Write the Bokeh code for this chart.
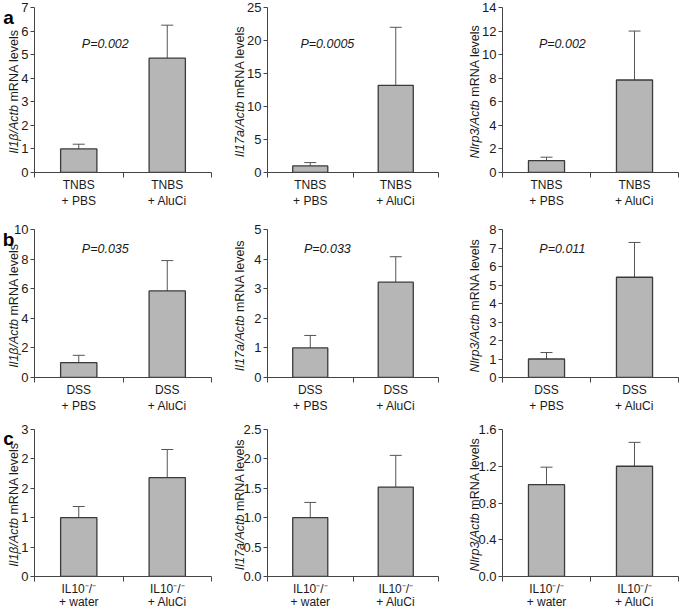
import math
from bokeh.plotting import figure
from bokeh.models import (Range1d, FixedTicker, Whisker, TeeHead, ColumnDataSource,
                          GridBox)
from bokeh.layouts import row, column
from bokeh.core.properties import value
from bokeh.embed import file_html
from bokeh.resources import INLINE

# ---------------- data ----------------
letters = ["a", "b", "c"]
genes = ["Il1β/Actb", "Il17a/Actb", "Nlrp3/Actb"]
groups_a = ["TNBS\n+ PBS", "TNBS\n+ AluCi"]
groups_b = ["DSS\n+ PBS", "DSS\n+ AluCi"]
groups_c = ["IL10\u207b/\u207b\n+ water", "IL10\u207b/\u207b\n+ AluCi"]

# row a (TNBS)
values_a = [[1.0, 4.85], [1.0, 13.2], [1.0, 7.85]]
errors_a = [[0.2, 1.4], [0.5, 8.8], [0.3, 4.15]]
pvals_a = ["P=0.002", "P=0.0005", "P=0.002"]
# row b (DSS)
values_b = [[1.0, 5.85], [1.0, 3.22], [1.0, 5.42]]
errors_b = [[0.5, 2.05], [0.42, 0.86], [0.35, 1.88]]
pvals_b = ["P=0.035", "P=0.033", "P=0.011"]
# row c (IL10-/-)
values_c = [[1.0, 1.68], [1.0, 1.52], [1.0, 1.2]]
errors_c = [[0.19, 0.48], [0.26, 0.54], [0.19, 0.26]]
pvals_c = [None, None, None]

# y axis ticks and their labels
yticks_a = [[0, 1, 2, 3, 4, 5, 6, 7], [0, 5, 10, 15, 20, 25], [0, 2, 4, 6, 8, 10, 12, 14]]
ylabels_a = [[str(t) for t in ts] for ts in yticks_a]
yticks_b = [[0, 2, 4, 6, 8, 10], [0, 1, 2, 3, 4, 5], [0, 1, 2, 3, 4, 5, 6, 7, 8]]
ylabels_b = [[str(t) for t in ts] for ts in yticks_b]
yticks_c = [[0, 0.5, 1.0, 1.5, 2.0, 2.5], [0, 0.5, 1.0, 1.5, 2.0, 2.5], [0, 0.4, 0.8, 1.2, 1.6]]
ylabels_c = [["0", "1", "1", "2", "2", "3"],
             ["0.0", "0.5", "1.0", "1.5", "2.0", "2.5"],
             ["0.0", "0.4", "0.8", "1.2", "1.6"]]

rows_data = [
    (groups_a, values_a, errors_a, pvals_a, yticks_a, ylabels_a),
    (groups_b, values_b, errors_b, pvals_b, yticks_b, ylabels_b),
    (groups_c, values_c, errors_c, pvals_c, yticks_c, ylabels_c),
]

# ---------------- layout / style ----------------
W, H = 685, 610
FONT = "Liberation Sans"
cols = [dict(w=232, left=34, right=21, px=0.80, lab_x=13.5),
        dict(w=236, left=35, right=30, px=0.70, lab_x=239),
        dict(w=217, left=34, right=7, px=0.68, lab_x=474)]
rows_l = [dict(h=222, top=7, bottom=50, pdy=36, lab_y=91, let_y=17, lh=1.15),
          dict(h=200, top=7, bottom=45, pdy=19, lab_y=305, let_y=239, lh=1.15),
          dict(h=196, top=7, bottom=42, pdy=19, lab_y=504, let_y=438, lh=0.98)]
LAB_FS = 12.5
em = LAB_FS
ital_w = {"Il1β/Actb": 3.891 * em, "Il17a/Actb": 4.447 * em, "Nlrp3/Actb": 4.668 * em}
space_w = 0.278 * em
rest_txt = "mRNA levels"
rest_w = 5.778 * em

BAR_FILL = "#b6b6b6"
BAR_LINE = "#3a3a3a"
AX = "#444444"
TXT = "#1a1a1a"


def panel(ri, ci):
    groups, vals, errs, pvals, yticks, ylabels = rows_data[ri]
    c = cols[ci]
    r = rows_l[ri]
    fh = r["h"] - r["top"] - r["bottom"]
    ticks = yticks[ci]
    yend = ticks[-1]
    p = figure(width=c["w"], height=r["h"], x_range=Range1d(0, 2),
               y_range=Range1d(0, yend), output_backend="svg",
               toolbar_location=None, min_border_left=c["left"],
               min_border_right=c["right"], min_border_top=r["top"],
               min_border_bottom=r["bottom"])
    p.outline_line_color = None
    p.xgrid.visible = False
    p.ygrid.visible = False

    v = vals[ci]
    e = errs[ci]
    src = ColumnDataSource(dict(x=[0.5, 1.5], top=v, upper=[a + b for a, b in zip(v, e)]))
    p.add_layout(Whisker(source=src, base="x", lower="top", upper="upper",
                         dimension="height", line_color="#555555", line_width=1,
                         upper_head=TeeHead(size=12, line_color="#555555", line_width=1),
                         lower_head=None))
    p.vbar(x="x", top="top", width=0.41, source=src, fill_color=BAR_FILL,
           line_color=BAR_LINE, line_width=1.3)

    xa = p.xaxis[0]
    xa.ticker = FixedTicker(ticks=[0.5, 1.5], minor_ticks=[0, 1, 2])
    xa.major_label_overrides = {0.5: groups[0], 1.5: groups[1]}
    xa.major_tick_out = 0
    xa.major_tick_in = 0
    xa.minor_tick_out = 5
    xa.minor_tick_in = 0
    xa.minor_tick_line_color = AX
    xa.axis_line_color = AX
    xa.major_label_standoff = 0
    xa.major_label_text_font = FONT
    xa.major_label_text_font_size = "12px"
    xa.major_label_text_line_height = r["lh"]
    xa.major_label_text_color = TXT

    ya = p.yaxis[0]
    ya.ticker = FixedTicker(ticks=ticks, minor_ticks=[])
    ya.major_label_overrides = {t: l for t, l in zip(ticks, ylabels[ci])}
    ya.major_tick_out = 4
    ya.major_tick_in = 0
    ya.major_tick_line_color = AX
    ya.axis_line_color = AX
    ya.major_label_standoff = 2
    ya.major_label_text_font = FONT
    ya.major_label_text_font_size = "13px"
    ya.major_label_text_color = TXT

    if pvals[ci]:
        ptxt = ColumnDataSource(dict(x=[c["px"]], y=[yend * (fh - r["pdy"]) / fh],
                                     t=[pvals[ci]]))
        p.text(x="x", y="y", text="t", source=ptxt, text_align="center",
               text_baseline="middle", text_font=value(FONT), text_font_size="12.5px",
               text_font_style="italic", text_color=TXT)
    return p


main = column(*[row(*[panel(ri, ci) for ci in range(3)]) for ri in range(3)])

# transparent overlay carrying the mixed-style y-axis titles and panel letters
ov = figure(width=W, height=H, x_range=Range1d(0, W), y_range=Range1d(0, H),
            x_axis_type=None, y_axis_type=None, output_backend="svg",
            toolbar_location=None, min_border=0)
ov.outline_line_color = None
ov.background_fill_alpha = 0
ov.border_fill_alpha = 0

it_x, it_y, it_t, rs_x, rs_y, rs_t = [], [], [], [], [], []
for ri in range(3):
    for ci in range(3):
        g = genes[ci]
        total = ital_w[g] + space_w + rest_w
        ysplit = rows_l[ri]["lab_y"] + total / 2 - ital_w[g]   # screen y (down)
        it_x.append(cols[ci]["lab_x"]); it_y.append(H - ysplit); it_t.append(g)
        rs_x.append(cols[ci]["lab_x"]); rs_y.append(H - ysplit + space_w); rs_t.append(rest_txt)

ov.text(x=it_x, y=it_y, text=it_t, angle=math.pi / 2, text_align="right",
        text_baseline="middle", text_font=value(FONT), text_font_size=f"{LAB_FS}px",
        text_font_style="italic", text_color=TXT)
ov.text(x=rs_x, y=rs_y, text=rs_t, angle=math.pi / 2, text_align="left",
        text_baseline="middle", text_font=value(FONT), text_font_size=f"{LAB_FS}px",
        text_color=TXT)
ov.text(x=[8, 8, 8], y=[H - r["let_y"] for r in rows_l], text=letters,
        text_align="center", text_baseline="alphabetic", text_font=value(FONT),
        text_font_size="19px", text_font_style="bold", text_color="#000000")

layout = GridBox(children=[(main, 0, 0), (ov, 0, 0)], width=W, height=H,
                 styles={"overflow": "hidden"})

open("out.html", "w").write(file_html(layout, INLINE))
